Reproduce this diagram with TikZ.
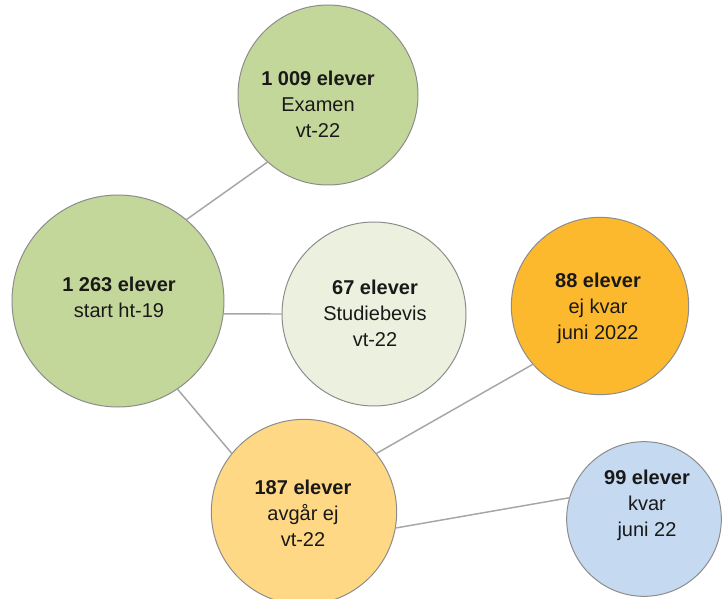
\documentclass[tikz,border=0pt]{standalone}
\usepackage{fontspec}
\setmainfont{Liberation Sans}
\definecolor{bgreen}{HTML}{C4D79B}
\definecolor{bpale}{HTML}{EBF1DE}
\definecolor{borange}{HTML}{FDB92E}
\definecolor{bpeach}{HTML}{FFD885}
\definecolor{bblue}{HTML}{C5D9F1}
\definecolor{rim}{HTML}{8C8C8C}
\definecolor{link}{HTML}{A6A6A6}
\begin{document}
\begin{tikzpicture}[x=0.75pt,y=-0.75pt,
		bubble/.style={circle,draw=rim,line width=0.75pt,fill=#1,inner sep=0pt,outer sep=0pt},
		txt/.style={align=center,text=black!90,font=\fontsize{15}{19.5}\selectfont},
		link/.style={draw=link,line width=1.1pt}]
		\useasboundingbox (0,0) rectangle (725,599);
		\node[bubble=bgreen,minimum size=159pt] (c1) at (118,301) {};
		\node[bubble=bgreen,minimum size=135pt] (c2) at (328,95) {};
		\node[bubble=bpale,minimum size=138pt] (c3) at (374,314) {};
		\node[bubble=borange,minimum size=133pt] (c4) at (600,306) {};
		\node[bubble=bpeach,minimum size=139pt] (c5) at (304,512) {};
		\node[bubble=bblue,minimum size=116pt] (c6) at (644,519) {};
		\draw[link] (c1.50) to (c2.228);
		\draw[link] (c1.-7) to (c3.180);
		\draw[link] (c1.-56) to (c5.141);
		\draw[link] (c5.39) to (c4.221);
		\draw[link] (c5.-10) to (c6.164);
		\node[txt] (t1) at (119,297) {\textbf{1 263 elever}\\start ht-19};
		\node[txt] (t2) at (318,104) {\textbf{1 009 elever}\\Examen\\vt-22};
		\node[txt] (t3) at (375,313) {\textbf{67 elever}\\Studiebevis\\vt-22};
		\node[txt] (t4) at (598,308) {\textbf{88 elever}\\ej kvar\\juni 2022};
		\node[txt] (t5) at (303,513) {\textbf{187 elever}\\avgår ej\\vt-22};
		\node[txt] (t6) at (647,505) {\textbf{99 elever}\\kvar\\juni 22};
	\end{tikzpicture}
\end{document}
